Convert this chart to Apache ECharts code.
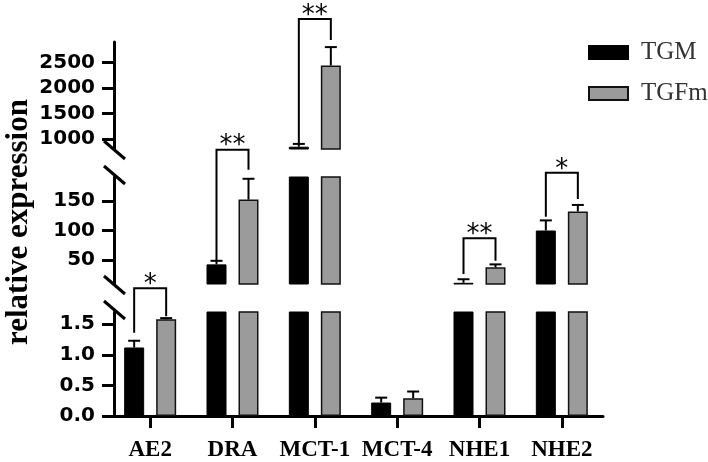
<!DOCTYPE html>
<html><head><meta charset="utf-8">
<script src="https://cdn.jsdelivr.net/npm/echarts@6/dist/echarts.min.js"></script>
<style>html,body{margin:0;padding:0;background:#fff}#c{width:708px;height:462px}</style>
</head><body><div id="c"></div>
<script>
// ---------- data ----------
const categories = ['AE2', 'DRA', 'MCT-1', 'MCT-4', 'NHE1', 'NHE2'];
const tgmMean  = [1.12, 43, 845, 0.22, 12, 100];
const tgmSD    = [0.11, 6, 55, 0.08, 6, 17];
const tgfmMean = [1.58, 152, 2440, 0.29, 38, 132];
const tgfmSD   = [0.02, 35, 360, 0.11, 5, 11];
// broken axis segments: bottom, middle, top
const segMin   = [0, 10, 800];
const segMax   = [1.7, 190, 2900];
const segTicks = [[0, 0.5, 1.0, 1.5], [50, 100, 150], [1000, 1500, 2000, 2500]];
// significance brackets
const sigCat   = [0, 1, 2, 4, 5];
const sigSeg   = [0, 1, 2, 1, 1];
const sigLeft  = [1.36, 50, 918, 27, 123];
const sigRight = [1.63, 202, 2937, 49, 153];
const sigTop   = [2.09, 236, 3349, 87, 197];
const sigMark  = ['*', '**', '**', '**', '*'];

// ---------- layout ----------
const gridTop = [312, 177, 42];
const gridHeight = [104, 107, 107];
const gridLeft = 109, gridRight = 105, yAxisX = 114;
const barOff = 16;

const chart = echarts.init(document.getElementById('c'));
const grids = [], xAxes = [], yAxes = [], series = [];

function errRender(offset) {
  return function (params, api) {
    const b = api.coord([api.value(0), api.value(1)]);
    const t = api.coord([api.value(0), api.value(2)]);
    const cx = b[0] + offset;
    return {
      type: 'group', children: [
        { type: 'line', shape: { x1: cx, y1: b[1], x2: cx, y2: t[1] }, style: { stroke: '#000', lineWidth: 2 } },
        { type: 'line', shape: { x1: cx - 6, y1: t[1], x2: cx + 6, y2: t[1] }, style: { stroke: '#000', lineWidth: 2 } }
      ]
    };
  };
}

function bracketRender(params, api) {
  const l = api.coord([api.value(0), api.value(1)]);
  const r = api.coord([api.value(0), api.value(2)]);
  const t = api.coord([api.value(0), api.value(3)]);
  const xl = l[0] - barOff, xr = l[0] + barOff;
  const txt = sigMark[api.value(4)];
  return {
    type: 'group', children: [
      { type: 'polyline', shape: { points: [[xl, l[1]], [xl, t[1]], [xr, t[1]], [xr, r[1]]] },
        style: { stroke: '#000', lineWidth: 2, fill: null } },
      { type: 'text', x: (xl + xr) / 2, y: t[1] - 3,
        style: { text: txt, font: '26px "DejaVu Sans"', fill: '#000', align: 'center', verticalAlign: 'middle' } }
    ]
  };
}

for (let s = 0; s < 3; s++) {
  grids.push({ left: gridLeft, right: gridRight, top: gridTop[s], height: gridHeight[s] });
  const bottom = s === 0;
  xAxes.push({
    gridIndex: s, type: 'category', data: categories, show: bottom,
    axisLine: { show: bottom, lineStyle: { color: '#000', width: 3 } },
    axisTick: { show: bottom, alignWithLabel: true, length: 12, lineStyle: { color: '#000', width: 3 } },
    axisLabel: { show: bottom, interval: 0, margin: 23, color: '#000', fontFamily: 'Liberation Serif', fontWeight: 'bold', fontSize: 23 }
  });
  yAxes.push({
    gridIndex: s, type: 'value', min: segMin[s], max: segMax[s], offset: -(yAxisX - gridLeft),
    splitLine: { show: false },
    axisLine: { show: true, lineStyle: { color: '#000', width: 3 } },
    axisTick: { show: true, length: 12, customValues: segTicks[s], lineStyle: { color: '#000', width: 3 } },
    axisLabel: {
      customValues: segTicks[s], margin: 19, color: '#000', fontFamily: 'DejaVu Sans', fontWeight: 'bold', fontSize: 20,
      formatter: s === 0 ? (v => Number(v).toFixed(1)) : (v => String(v))
    }
  });
  const inSeg = v => (v >= segMin[s] ? v : null);
  series.push({
    name: 'TGM', type: 'bar', xAxisIndex: s, yAxisIndex: s, barWidth: 20, barGap: '60%',
    itemStyle: { color: '#000', borderColor: '#000', borderWidth: 1 },
    data: tgmMean.map(inSeg)
  });
  series.push({
    name: 'TGFm', type: 'bar', xAxisIndex: s, yAxisIndex: s, barWidth: 20, barGap: '60%',
    itemStyle: { color: '#9b9b9b', borderColor: '#111', borderWidth: 1.5 },
    data: tgfmMean.map(inSeg)
  });
  const inRange = v => v >= segMin[s] && v <= segMax[s];
  const e1 = [], e2 = [];
  categories.forEach((c, i) => {
    if (inRange(tgmMean[i])) e1.push([i, tgmMean[i], tgmMean[i] + tgmSD[i]]);
    if (inRange(tgfmMean[i])) e2.push([i, tgfmMean[i], tgfmMean[i] + tgfmSD[i]]);
  });
  series.push({ type: 'custom', xAxisIndex: s, yAxisIndex: s, clip: true, z: 5, renderItem: errRender(-barOff), data: e1 });
  series.push({ type: 'custom', xAxisIndex: s, yAxisIndex: s, clip: true, z: 5, renderItem: errRender(barOff), data: e2 });
  const br = [];
  sigCat.forEach((c, k) => { if (sigSeg[k] === s) br.push([c, sigLeft[k], sigRight[k], sigTop[k], k]); });
  series.push({ type: 'custom', xAxisIndex: s, yAxisIndex: s, clip: false, z: 6, renderItem: bracketRender, data: br });
}

// axis break marks at segment ends
const breakYs = [gridTop[2] + gridHeight[2] + 1, gridTop[1] - 2, gridTop[1] + gridHeight[1] + 1, gridTop[0] - 2];
const graphics = breakYs.map(y => ({
  type: 'line', shape: { x1: yAxisX - 10, y1: y - 9, x2: yAxisX + 11, y2: y + 9 },
  style: { stroke: '#000', lineWidth: 3 }
}));
graphics.push({
  type: 'text', x: 19, y: 222, rotation: Math.PI / 2,
  style: { text: 'relative expression', font: 'bold 31px "Liberation Serif"', fill: '#000', align: 'center', verticalAlign: 'middle' }
});

chart.setOption({
  animation: false,
  backgroundColor: '#fff',
  textStyle: { fontFamily: 'Liberation Serif' },
  grid: grids, xAxis: xAxes, yAxis: yAxes, series: series,
  graphic: graphics,
  legend: {
    data: ['TGM', 'TGFm'], orient: 'vertical', left: 583, top: 35,
    icon: 'rect', itemWidth: 39, itemHeight: 13, itemGap: 16,
    formatter: '{t|{name}}',
    textStyle: {
      padding: [0, 0, 0, 8],
      rich: { t: { fontFamily: 'Liberation Serif', fontSize: 25, color: '#333', lineHeight: 30 } }
    }
  }
});
</script></body></html>
